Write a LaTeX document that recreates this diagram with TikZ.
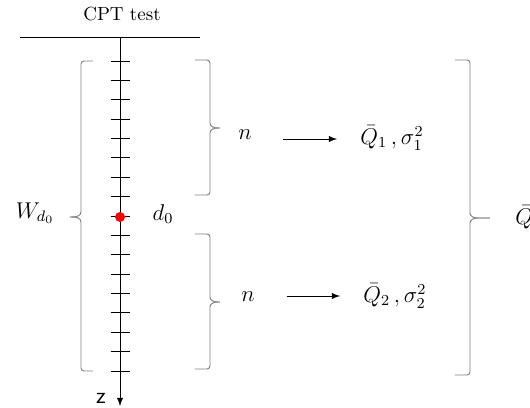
\documentclass[tikz,border=0pt]{standalone}
\usepackage{xcolor}
\definecolor{bracegray}{rgb}{0.5,0.5,0.5}
\usepackage{amsmath}
\usepackage{tikz}

\begin{document}
\begin{tikzpicture}[x=0.0185cm,y=-0.0185cm,
  braceline/.style={draw=bracegray,line width=0.5pt},
  tickline/.style={line width=0.5pt},
  mathlab/.style={font=\large}]
\useasboundingbox (0,0) rectangle (530,408);

% Ground line and title
\node (title) at (122,14) {CPT test};
\draw[line width=0.5pt] (20,37) -- (200,37);

% Depth axis
\coordinate (axtop) at (120,37);
\coordinate (axbot) at (120,406);
\draw[line width=0.5pt,-latex] (axtop) -- (axbot);
\node[font=\sffamily\large] (zlab) at (101,398) {z};

% Ticks
\foreach \k in {0,...,16}
  \draw[tickline] (111,61+19.375*\k) -- (130,61+19.375*\k);

% Point d0
\fill[red] (120,217) circle (5);
\node[mathlab] (dlab) at (163,214) {$d_0$};

% Left brace (window)
\draw[braceline] (93,61) -- (84,61) to[out=180,in=90] (81,64) -- (81,212) to[out=-90,in=0] (72,217) -- (70,217);
\draw[braceline] (70,217) -- (72,217) to[out=0,in=90] (81,222) -- (81,368) to[out=-90,in=180] (84,371) -- (93,371);
\node[mathlab] (wlab) at (35,213) {$W_{d_0}$};

% Upper brace
\draw[braceline] (195,60) -- (207,60) to[out=0,in=90] (210,63) -- (210,123) to[out=-90,in=180] (218,128) -- (220,128);
\draw[braceline] (220,128) -- (218,128) to[out=180,in=90] (210,133) -- (210,192) to[out=-90,in=0] (207,195) -- (195,195);
\node[mathlab] (n1) at (245,135) {$n$};
\node[mathlab] (q1) at (392,138) {$\bar{Q}_1\,,\sigma_1^2$};
\coordinate (a1s) at (283,139);
\coordinate (a1e) at (337,139);
\draw[line width=0.5pt,-latex] (a1s) -- (a1e);

% Lower brace
\draw[braceline] (195,234) -- (207,234) to[out=0,in=90] (210,237) -- (210,297) to[out=-90,in=180] (218,302) -- (220,302);
\draw[braceline] (220,302) -- (218,302) to[out=180,in=90] (210,307) -- (210,366) to[out=-90,in=0] (207,369) -- (195,369);
\node[mathlab] (n2) at (248,297) {$n$};
\node[mathlab] (q2) at (395,296) {$\bar{Q}_2\,,\sigma_2^2$};
\coordinate (a2s) at (287,296);
\coordinate (a2e) at (340,296);
\draw[line width=0.5pt,-latex] (a2s) -- (a2e);

% Big brace
\draw[braceline] (455,60) -- (467,60) to[out=0,in=90] (470,63) -- (470,213) to[out=-90,in=180] (478,218) -- (490,218);
\draw[braceline] (490,218) -- (478,218) to[out=180,in=90] (470,223) -- (470,372) to[out=-90,in=0] (467,375) -- (455,375);
\node[mathlab,anchor=west,inner sep=0pt] (qbar) at (515,217) {$\bar{Q}$};

\end{tikzpicture}
\end{document}
